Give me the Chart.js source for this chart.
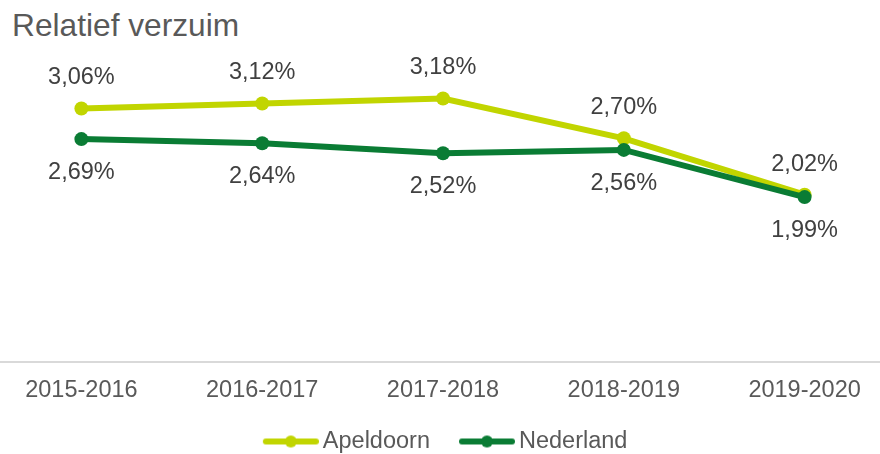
<!DOCTYPE html>
<html lang="nl">
<head>
<meta charset="UTF-8">
<title>Relatief verzuim</title>
<script src="https://cdn.jsdelivr.net/npm/chart.js"></script>
<style>
  html, body { margin: 0; padding: 0; background: #fff; overflow: hidden; }
  body { width: 880px; height: 454px; position: relative; font-family: "Liberation Sans", Arial, sans-serif; }
  .title { position: absolute; left: 12px; top: 7px; font-size: 31.7px; color: #595959; white-space: nowrap; }
  /* canvas is a bit wider than the window so the category bands line up with the original */
  #chart { position: absolute; left: -16px; top: 0; }
</style>
</head>
<body>
<div class="title">Relatief verzuim</div>
<canvas id="chart" width="918" height="454"></canvas>
<script>
const years = ['2015-2016', '2016-2017', '2017-2018', '2018-2019', '2019-2020'];
const apeldoorn = [3.06, 3.12, 3.18, 2.70, 2.02];
const nederland = [2.69, 2.64, 2.52, 2.56, 1.99];
const seriesNames = ['Apeldoorn', 'Nederland'];

const lightGreen = '#c1d500';
const darkGreen = '#0a7c34';
const font = '"Liberation Sans", Arial, sans-serif';

// line + dot icon for the legend (left part of the image is left empty as spacing)
function legendIcon(color) {
  const c = document.createElement('canvas');
  c.width = 68; c.height = 16;
  const g = c.getContext('2d');
  g.strokeStyle = color;
  g.lineWidth = 6;
  g.lineCap = 'round';
  g.beginPath(); g.moveTo(15, 8); g.lineTo(65, 8); g.stroke();
  g.fillStyle = color;
  g.beginPath(); g.arc(40, 8, 6, 0, Math.PI * 2); g.fill();
  return c;
}

// value labels: Apeldoorn above the points, Nederland below
const valueLabels = {
  id: 'valueLabels',
  afterDatasetsDraw(chart) {
    const ctx = chart.ctx;
    ctx.save();
    ctx.font = '23.5px ' + font;
    ctx.fillStyle = '#404040';
    ctx.textAlign = 'center';
    ctx.textBaseline = 'middle';
    chart.data.datasets.forEach((ds, i) => {
      const meta = chart.getDatasetMeta(i);
      const dy = i === 0 ? -30.5 : 33.5;
      meta.data.forEach((pt, j) => {
        const txt = ds.data[j].toFixed(2).replace('.', ',') + '%';
        ctx.fillText(txt, pt.x, pt.y + dy);
      });
    });
    ctx.restore();
  }
};

new Chart(document.getElementById('chart'), {
  type: 'line',
  data: {
    labels: years,
    datasets: [
      {
        label: seriesNames[0],
        data: apeldoorn,
        borderColor: lightGreen,
        backgroundColor: lightGreen,
        borderWidth: 6,
        pointRadius: 7,
        pointHoverRadius: 7,
        pointBorderWidth: 0,
        order: 1
      },
      {
        label: seriesNames[1],
        data: nederland,
        borderColor: darkGreen,
        backgroundColor: darkGreen,
        borderWidth: 6,
        pointRadius: 7,
        pointHoverRadius: 7,
        pointBorderWidth: 0,
        order: 0
      }
    ]
  },
  options: {
    responsive: false,
    animation: false,
    layout: { padding: { top: 72, bottom: 0, left: 0, right: 0 } },
    scales: {
      x: {
        offset: true,
        grid: { display: false, drawTicks: false },
        border: { display: true, color: '#d9d9d9', width: 2 },
        ticks: { padding: 14, color: '#595959', font: { family: font, size: 23.5 } },
        afterFit(s) { s.height = 43; }
      },
      y: {
        display: false,
        min: 0,
        max: 3.5
      }
    },
    plugins: {
      title: { display: false },
      tooltip: { enabled: false },
      legend: {
        position: 'bottom',
        maxHeight: 49,
        labels: {
          usePointStyle: true,
          pointStyleWidth: 52.5,
          padding: 24.75,
          color: '#595959',
          font: { family: font, size: 23.5 },
          generateLabels(chart) {
            return chart.data.datasets.map((ds, i) => ({
              text: ds.label,
              pointStyle: legendIcon(ds.borderColor),
              fillStyle: ds.borderColor,
              strokeStyle: ds.borderColor,
              lineWidth: 0,
              hidden: false,
              datasetIndex: i,
              fontColor: '#595959'
            }));
          }
        }
      }
    }
  },
  plugins: [valueLabels]
});
</script>
</body>
</html>
